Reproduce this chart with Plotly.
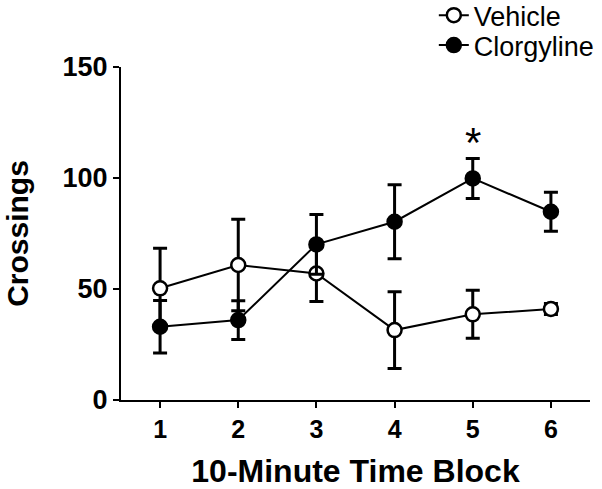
import plotly.graph_objects as go

# time blocks (10-minute)
blocks = [1, 2, 3, 4, 5, 6]

# mean crossings and SEM
vehicle_mean = [50.3, 60.8, 57.0, 31.5, 38.6, 41.0]
vehicle_sem = [18.0, 20.6, 12.6, 17.3, 10.8, 2.5]

clorgyline_mean = [33.0, 36.0, 70.1, 80.3, 99.8, 84.8]
clorgyline_sem = [11.8, 8.7, 13.5, 16.7, 9.0, 8.8]

# significance marker
sig_block = 5
sig_label = "*"
sig_y = 115.8

font_family = "Arial, Liberation Sans, sans-serif"

fig = go.Figure()

fig.add_trace(go.Scatter(
    x=blocks, y=vehicle_mean, name="Vehicle", legend="legend",
    mode="lines+markers",
    line=dict(color="black", width=2),
    marker=dict(symbol="circle", size=14, color="white", line=dict(color="black", width=2.5)),
    error_y=dict(type="data", array=vehicle_sem, visible=True, color="black", thickness=3, width=7),
))
fig.add_trace(go.Scatter(
    x=blocks, y=clorgyline_mean, name="Clorgyline", legend="legend2",
    mode="lines+markers",
    line=dict(color="black", width=2),
    marker=dict(symbol="circle", size=14, color="black", line=dict(color="black", width=2.5)),
    error_y=dict(type="data", array=clorgyline_sem, visible=True, color="black", thickness=3, width=7),
))

fig.add_annotation(
    x=sig_block, y=sig_y, text=sig_label, showarrow=False,
    font=dict(size=42, color="black", family=font_family),
    yanchor="middle",
)

# one legend per series so each row can sit where the original has it
legend_style = dict(
    xanchor="left", yanchor="top",
    font=dict(size=27, color="black", family=font_family),
    bgcolor="rgba(0,0,0,0)", itemwidth=30,
)

fig.update_layout(
    width=602, height=489,
    margin=dict(l=121, r=12, t=67, b=89, autoexpand=False),
    paper_bgcolor="white", plot_bgcolor="white",
    font=dict(family=font_family, color="black"),
    showlegend=True,
    legend=dict(x=0.667, y=1.228, **legend_style),
    legend2=dict(x=0.667, y=1.138, **legend_style),
)

fig.update_xaxes(
    range=[0.5, 6.5],
    tickvals=blocks,
    showline=True, linecolor="black", linewidth=2,
    ticks="outside", tickwidth=2, ticklen=6, tickcolor="black",
    showgrid=False, zeroline=False,
    tickfont=dict(size=25, family=font_family, weight="bold"),
    title=dict(text="<b>10-Minute Time Block</b>", font=dict(size=32), standoff=23),
)
fig.update_yaxes(
    range=[0, 150],
    tickvals=[0, 50, 100, 150],
    showline=True, linecolor="black", linewidth=2,
    ticks="outside", tickwidth=2, ticklen=6, tickcolor="black",
    showgrid=False, zeroline=False,
    tickfont=dict(size=27, family=font_family, weight="bold"),
    title=dict(text="<b>Crossings</b>", font=dict(size=30), standoff=25),
)

# page body has a default 8px margin; drop it so the figure fills the window
fig.write_html("out.html", config={"displayModeBar": False},
               post_script="document.body.style.margin='0px';")
